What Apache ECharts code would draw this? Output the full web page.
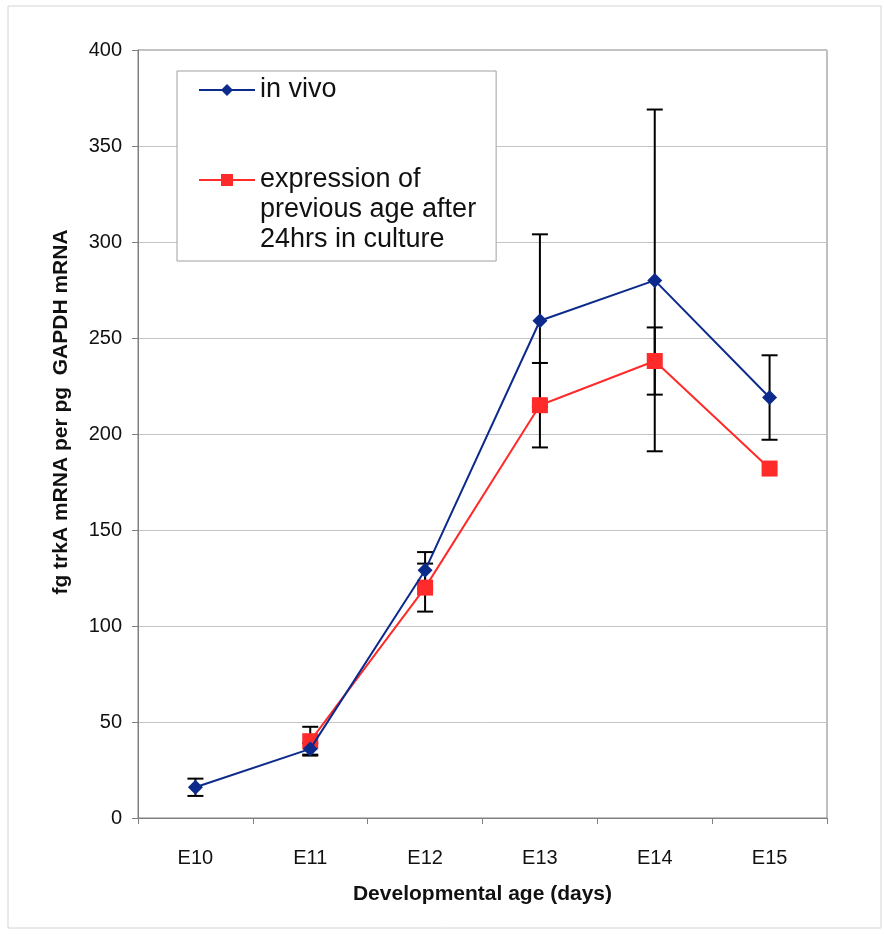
<!DOCTYPE html>
<html>
<head>
<meta charset="utf-8">
<script src="https://cdn.jsdelivr.net/npm/echarts@6/dist/echarts.min.js"></script>
<style>
  html, body { margin: 0; padding: 0; background: #fff; }
  #main { width: 884px; height: 934px; }
</style>
</head>
<body>
<div id="main"></div>
<script>
// categories and values
var ages = ['E10', 'E11', 'E12', 'E13', 'E14', 'E15'];
var inVivo = [16, 36, 129, 259, 280, 219];
var inVivoErr = [4.5, 3, 9.5, 45, 89, 22];
var cultured = [null, 40, 120, 215, 238, 182];
var culturedErr = [null, 7.5, 12.5, 22, 17.5, null];
var yTicks = [0, 50, 100, 150, 200, 250, 300, 350, 400];

var blue = '#0b2a8c';
var red = '#ff2a2a';
var font = 'Liberation Sans, Arial, sans-serif';

//Build error bar data as [categoryIndex, value, err].
function errData(vals, errs){
    var out = [];
    for (var i = 0; i < vals.length; i++){
        if (vals[i] == null || errs[i] == null) continue;
        out.push([i, vals[i], errs[i]]);
    }
    return out;
}

function renderErr(params, api){
    var x = api.value(0);
    var v = api.value(1);
    var e = api.value(2);
    var top = api.coord([x, v + e]);
    var bot = api.coord([x, v - e]);
    var hw = 8;
    var st = { stroke: '#000', lineWidth: 2 };
    return {
        type: 'group',
        children: [
            { type: 'line', shape: { x1: top[0], y1: top[1], x2: bot[0], y2: bot[1] }, style: st },
            { type: 'line', shape: { x1: top[0] - hw, y1: top[1], x2: top[0] + hw, y2: top[1] }, style: st },
            { type: 'line', shape: { x1: bot[0] - hw, y1: bot[1], x2: bot[0] + hw, y2: bot[1] }, style: st }
        ]
    };
}

var chart = echarts.init(document.getElementById('main'));

chart.setOption({
    backgroundColor: '#fff',
    animation: false,
    textStyle: { fontFamily: font },
    graphic: [{
        type: 'rect',
        shape: { x: 8, y: 6, width: 873, height: 922 },
        style: { fill: 'none', stroke: '#d4d4d4', lineWidth: 1 },
        silent: true
    }],
    grid: {
        left: 138, right: 57, top: 50, bottom: 116,
        show: true, borderColor: '#808080', borderWidth: 1
    },
    legend: {
        orient: 'vertical',
        left: 177, top: 71,
        itemGap: 0,
        itemWidth: 56, itemHeight: 15,
        padding: [4, 20, 6, 21],
        backgroundColor: '#fff',
        borderColor: '#a0a0a0', borderWidth: 1,
        textStyle: { fontFamily: font, fontSize: 27, lineHeight: 30, color: '#111' },
        formatter: function(name){
            if (name === 'in vivo') return name;
            return '\n\nexpression of\nprevious age after\n24hrs in culture';
        },
        data: ['in vivo', 'expression of previous age after 24hrs in culture']
    },
    xAxis: {
        type: 'category',
        data: ages,
        boundaryGap: true,
        name: 'Developmental age (days)',
        nameLocation: 'middle',
        nameGap: 66,
        nameTextStyle: { fontFamily: font, fontSize: 21, fontWeight: 'bold', color: '#111' },
        axisLine: { lineStyle: { color: '#808080', width: 1 } },
        axisTick: { show: true, length: 6, lineStyle: { color: '#808080' } },
        axisLabel: { fontFamily: font, fontSize: 20, color: '#111', margin: 30 },
        splitLine: { show: false }
    },
    yAxis: {
        type: 'value',
        min: 0, max: 400, interval: 50,
        name: 'fg trkA mRNA per pg  GAPDH mRNA',
        nameLocation: 'middle',
        nameGap: 66,
        nameTextStyle: { fontFamily: font, fontSize: 21, fontWeight: 'bold', color: '#111', padding: [0, 0, 0, 44] },
        axisLine: { show: true, lineStyle: { color: '#808080', width: 1 } },
        axisTick: { show: true, length: 6, lineStyle: { color: '#808080' } },
        axisLabel: {
            fontFamily: font, fontSize: 20, color: '#111', margin: 16,
            formatter: function(v){ return yTicks.indexOf(v) >= 0 ? String(v) : ''; }
        },
        splitLine: { show: true, lineStyle: { color: '#c4c4c4', width: 1 } }
    },
    series: [
        {
            type: 'custom', name: 'err vivo',
            renderItem: renderErr,
            data: errData(inVivo, inVivoErr),
            z: 1, silent: true
        },
        {
            type: 'custom', name: 'err culture',
            renderItem: renderErr,
            data: errData(cultured, culturedErr),
            z: 1, silent: true
        },
        {
            type: 'line', name: 'in vivo',
            data: inVivo,
            symbol: 'diamond', symbolSize: 15,
            itemStyle: { color: blue },
            lineStyle: { color: blue, width: 2 },
            z: 3
        },
        {
            type: 'line', name: 'expression of previous age after 24hrs in culture',
            data: cultured,
            symbol: 'rect', symbolSize: 16,
            itemStyle: { color: red },
            lineStyle: { color: red, width: 2 },
            z: 2
        }
    ]
});
</script>
</body>
</html>
